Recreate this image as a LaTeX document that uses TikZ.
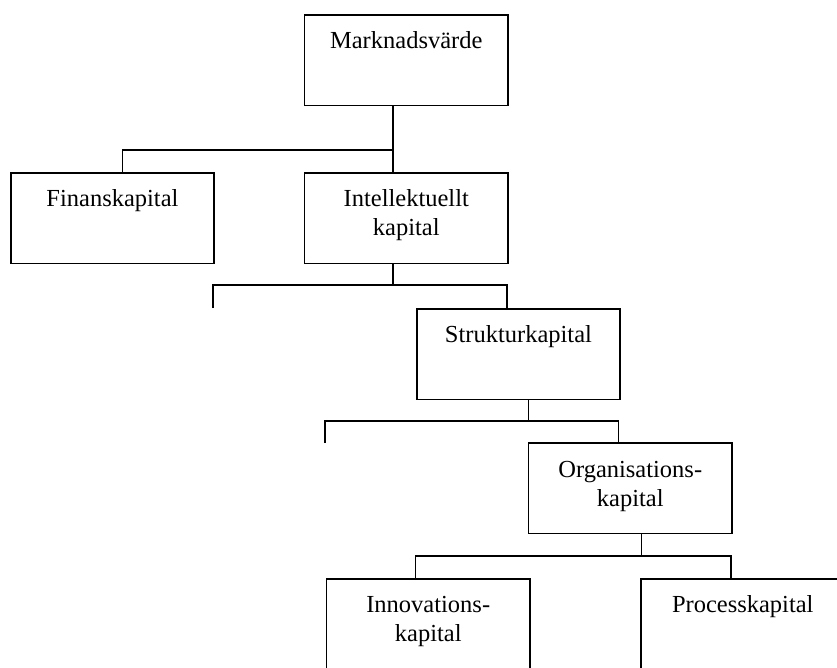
\documentclass[tikz,border=0pt]{standalone}
\usepackage{fontspec}
\setmainfont{Liberation Serif}
\tikzset{
  box/.style={draw, line width=1.7pt, minimum width=203.5pt, minimum height=90.5pt, inner sep=0pt, outer sep=0pt, anchor=north west},
  lbl/.style={anchor=north, inner sep=0pt, align=center, font=\fontsize{24.5}{29}\selectfont},
  conn/.style={line width=1.6pt},
}
\begin{document}
\begin{tikzpicture}[x=1pt,y=-1pt]
\useasboundingbox (0,0) rectangle (837,667);
\clip (0,0) rectangle (837,667);
% boxes
\node[box] (A) at (304.5,15) {};
\node[box] (F) at (10.7,173) {};
\node[box] (I) at (304.5,173) {};
\node[box] (S) at (416.7,309) {};
\node[box] (O) at (528.5,443) {};
\node[box] (N) at (326.5,579) {};
\node[box] (P) at (641,579) {};
% texts
\node[lbl] (tA) at ([yshift=-15.5pt]A.north) {\rule{0pt}{18pt}Marknadsvärde};
\node[lbl] (tF) at ([yshift=-15pt]F.north) {\rule{0pt}{18pt}Finanskapital};
\node[lbl] (tI) at ([yshift=-15pt]I.north) {\rule{0pt}{18pt}Intellektuellt\\kapital};
\node[lbl] (tS) at ([yshift=-15.5pt]S.north) {\rule{0pt}{18pt}Strukturkapital};
\node[lbl] (tO) at ([yshift=-16pt]O.north) {\rule{0pt}{18pt}Organisations-\\kapital};
\node[lbl] (tN) at ([yshift=-15.5pt]N.north) {\rule{0pt}{18pt}Innovations-\\kapital};
\node[lbl] (tP) at ([yshift=-15.5pt]P.north) {\rule{0pt}{18pt}Processkapital};
% level 1
\coordinate (jA) at (393,150);
\coordinate (sF) at (122.3,150);
\draw[conn] (jA |- A.south) -- (jA |- I.north);
\draw[conn] (jA) -- (sF) -- (sF |- F.north);
% level 2
\coordinate (jI) at (393,285);
\coordinate (l2a) at (212.7,285);
\coordinate (l2b) at (212.7,308);
\coordinate (r2) at (506.7,285);
\draw[conn] (jI |- I.south) -- (jI);
\draw[conn] (l2b) -- (l2a) -- (r2) -- (r2 |- S.north);
% level 3
\coordinate (jS) at (528.5,420.7);
\coordinate (l3a) at (325,420.7);
\coordinate (l3b) at (325,443);
\coordinate (r3) at (618.3,420.7);
\draw[conn] (jS |- S.south) -- (jS);
\draw[conn] (l3b) -- (l3a) -- (r3) -- (r3 |- O.north);
% level 4
\coordinate (jO) at (641.5,556);
\coordinate (l4) at (415.4,556);
\coordinate (r4) at (731,556);
\draw[conn] (jO |- O.south) -- (jO);
\draw[conn] (l4 |- N.north) -- (l4) -- (r4) -- (r4 |- P.north);
\end{tikzpicture}
\end{document}
